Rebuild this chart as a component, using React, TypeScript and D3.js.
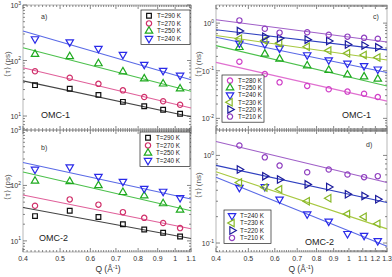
import * as d3 from 'd3';

// Q positions of the points (Å^-1)
const qLeft = [0.43, 0.53, 0.63, 0.73, 0.83, 0.93, 1.03];
const qRight = [0.47, 0.56, 0.62, 0.75, 0.87, 0.99, 1.11, 1.22];
const qTicksLeft = [0.4, 0.5, 0.6, 0.7, 0.8, 0.9, 1, 1.1];
const qTicksRight = [0.4, 0.5, 0.6, 0.7, 0.8, 0.9, 1, 1.1, 1.2, 1.3];

// a) OMC-1, <tau> in ps
const a290 = [36, 31, 24, 18, 15, 13, 11];
const a270 = [64, 49, 38, 29, 22, 18.5, 16];
const a250 = [130, 118, 88, 63, 47, 38, 31];
const a240 = [245, 215, 165, 128, 85, 66, 54];
// fit values at the two ends of the Q axis
const fitA290 = [43, 9.7];
const fitA270 = [74, 14];
const fitA250 = [170, 28];
const fitA240 = [340, 45];

// b) OMC-2, ps
const b290 = [28, 35, 27, 20, 16, 14, 12];
const b270 = [43, 56, 45, 33, 26, 21, 17];
const b250 = [120, 118, 100, 75, 65, 47, 36];
const b240 = [195, 215, 145, 118, 88, 78, 60];
const fitB290 = [40, 11];
const fitB270 = [67, 16.5];
const fitB250 = [175, 35];
const fitB240 = [260, 57];

// c) OMC-1, ns
const c280 = [0.155, 0.085, 0.057, 0.048, 0.041, 0.0365, 0.033, 0.028];
const c250 = [0.31, 0.225, 0.177, 0.128, 0.103, 0.082, 0.075, 0.067];
const c240 = [0.378, 0.366, 0.296, 0.215, 0.168, 0.143, 0.127, 0.108];
const c230 = [0.47, 0.43, 0.38, 0.32, 0.265, 0.232, 0.215, 0.19];
const c220 = [0.68, 0.52, 0.48, 0.45, 0.42, 0.355, 0.338, 0.31];
const c210 = [1.14, 0.76, 0.63, 0.645, 0.57, 0.52, 0.49, 0.47];
const fitC280 = [0.15, 0.023];
const fitC250 = [0.337, 0.048];
const fitC240 = [0.506, 0.092];
const fitC230 = [0.55, 0.168];
const fitC220 = [0.725, 0.274];
const fitC210 = [1.18, 0.4];

// d) OMC-2, ns
const d240 = [0.43, 0.44, 0.316, 0.214, 0.177, 0.128, 0.122, 0.106];
const d230 = [0.49, 0.43, 0.41, 0.3, 0.325, 0.214, 0.2, 0.166];
const d220 = [0.69, 0.58, 0.53, 0.467, 0.436, 0.36, 0.345, 0.316];
const d210 = [1.3, 0.95, 0.765, 0.643, 0.69, 0.605, 0.565, 0.58];
const fitD240 = [0.565, 0.092];
const fitD230 = [0.65, 0.145];
const fitD220 = [0.77, 0.29];
const fitD210 = [1.44, 0.49];

const font = "'Liberation Sans', Arial, sans-serif";

const col = {
  k: ['#111111', '#444444'],
  pink: ['#d0306a', '#e0609a'],
  green: ['#1faa1f', '#4cc04c'],
  blue: ['#2a2ae8', '#5a6ae6'],
  mag: ['#d040c8', '#e070d0'],
  olive: ['#88b828', '#a8c840'],
  navy: ['#1c1c9c', '#3040c0'],
  purple: ['#9040c0', '#a060c8'],
};

type Shape = 'square' | 'circle' | 'up' | 'down' | 'left' | 'right';
type Series = { label: string; shape: Shape; color: string[]; q: number[]; v: number[]; fit: number[] };

const symbolPath = (shape: Shape) => {
  if (shape === 'square') return d3.symbol().type(d3.symbolSquare).size(22)() as string;
  if (shape === 'circle') return d3.symbol().type(d3.symbolCircle).size(22)() as string;
  return d3.symbol().type(d3.symbolTriangle).size(24)() as string;
};
const rot = { square: 0, circle: 0, up: 0, down: 180, left: -90, right: 90 };

function Marker({ shape, color, x, y }: { shape: Shape; color: string; x: number; y: number }) {
  return (
    <path d={symbolPath(shape)} transform={`translate(${x},${y}) rotate(${rot[shape]})`}
      fill="none" stroke={color} strokeWidth={1.2} />
  );
}

const sup = (e: number) => (
  <>10<tspan dy={-3.5} fontSize={5}>{e}</tspan></>
);

type PanelProps = {
  x0: number; x1: number; y0: number; y1: number;
  xDomain: number[]; yDomain: number[]; xTicks: number[]; yExps: number[];
  showX: boolean; series: Series[];
  legend: { x: number; y: number; w: number; row: number };
  tag: string; tagPos: number[]; name: string; namePos: number[];
};

function Panel(p: PanelProps) {
  const x = d3.scaleLog().domain(p.xDomain).range([p.x0, p.x1]);
  const y = d3.scaleLog().domain(p.yDomain).range([p.y1, p.y0]);
  const line = d3.line<number[]>().x(d => x(d[0])).y(d => y(d[1]));
  const minorX = d3.range(Math.round(p.xDomain[0] * 100), Math.round(p.xDomain[1] * 100) + 1).map(d => d / 100);
  const minorY: number[] = [];
  for (let e = Math.floor(Math.log10(p.yDomain[0])); e <= Math.ceil(Math.log10(p.yDomain[1])); e++) {
    for (let k = 1; k < 10; k++) {
      const v = k * Math.pow(10, e);
      if (v >= p.yDomain[0] && v <= p.yDomain[1]) minorY.push(v);
    }
  }
  const tc = '#555';
  return (
    <g>
      <rect x={p.x0} y={p.y0} width={p.x1 - p.x0} height={p.y1 - p.y0} fill="none" stroke="#999" strokeWidth={0.7} />
      {minorX.map((q, i) => {
        const major = p.xTicks.some(t => Math.abs(t - q) < 1e-6);
        const l = major ? 4 : 2;
        return (
          <g key={'x' + i} stroke={tc} strokeWidth={0.7}>
            <line x1={x(q)} x2={x(q)} y1={p.y1} y2={p.y1 - l} />
            <line x1={x(q)} x2={x(q)} y1={p.y0} y2={p.y0 + l} />
          </g>
        );
      })}
      {minorY.map((v, i) => {
        const major = Math.abs(Math.log10(v) - Math.round(Math.log10(v))) < 1e-6;
        const l = major ? 4 : 2;
        return (
          <g key={'y' + i} stroke={tc} strokeWidth={0.7}>
            <line x1={p.x0} x2={p.x0 + l} y1={y(v)} y2={y(v)} />
            <line x1={p.x1} x2={p.x1 - l} y1={y(v)} y2={y(v)} />
          </g>
        );
      })}
      {p.yExps.map(e => (
        <text key={'yl' + e} x={p.x0 - 2} y={y(Math.pow(10, e)) + 3} textAnchor="end" fontSize={7} fill="#333" fontFamily={font}>
          {sup(e)}
        </text>
      ))}
      {p.showX && p.xTicks.map(t => (
        <text key={'xl' + t} x={x(t)} y={p.y1 + 9} textAnchor="middle" fontSize={7} fill="#333" fontFamily={font}>
          {String(t)}
        </text>
      ))}
      {p.series.map(s => (
        <path key={'f' + s.label} d={line([[p.xDomain[0], s.fit[0]], [p.xDomain[1], s.fit[1]]]) as string}
          stroke={s.color[1]} strokeWidth={1.1} fill="none" />
      ))}
      {p.series.map(s => (
        <g key={'m' + s.label}>
          {s.v.map((v, i) => <Marker key={i} shape={s.shape} color={s.color[0]} x={x(s.q[i])} y={y(v)} />)}
        </g>
      ))}
      <rect x={p.legend.x} y={p.legend.y} width={p.legend.w} height={p.series.length * p.legend.row + 4}
        fill="white" stroke="#222" strokeWidth={0.7} />
      {p.series.map((s, i) => {
        const cy = p.legend.y + 2 + p.legend.row * (i + 0.5);
        return (
          <g key={'l' + s.label}>
            <Marker shape={s.shape} color={s.color[0]} x={p.legend.x + 8} y={cy} />
            <text x={p.legend.x + 16} y={cy + 2.3} fontSize={6.3} fill="#222" fontFamily={font}>{s.label}</text>
          </g>
        );
      })}
      <text x={p.tagPos[0]} y={p.tagPos[1]} fontSize={7} fill="#333" fontFamily={font}>{p.tag}</text>
      <text x={p.namePos[0]} y={p.namePos[1]} fontSize={9} fill="#222" fontFamily={font}>{p.name}</text>
    </g>
  );
}

const mk = (label: string, shape: Shape, color: string[], q: number[], v: number[], fit: number[]): Series =>
  ({ label, shape, color, q, v, fit });

export default function App() {
  const seriesA = [
    mk('T=290 K', 'square', col.k, qLeft, a290, fitA290),
    mk('T=270 K', 'circle', col.pink, qLeft, a270, fitA270),
    mk('T=250 K', 'up', col.green, qLeft, a250, fitA250),
    mk('T=240 K', 'down', col.blue, qLeft, a240, fitA240),
  ];
  const seriesB = [
    mk('T=290 K', 'square', col.k, qLeft, b290, fitB290),
    mk('T=270 K', 'circle', col.pink, qLeft, b270, fitB270),
    mk('T=250 K', 'up', col.green, qLeft, b250, fitB250),
    mk('T=240 K', 'down', col.blue, qLeft, b240, fitB240),
  ];
  const seriesC = [
    mk('T=280 K', 'circle', col.mag, qRight, c280, fitC280),
    mk('T=250 K', 'up', col.green, qRight, c250, fitC250),
    mk('T=240 K', 'down', col.blue, qRight, c240, fitC240),
    mk('T=230 K', 'left', col.olive, qRight, c230, fitC230),
    mk('T=220 K', 'right', col.navy, qRight, c220, fitC220),
    mk('T=210 K', 'circle', col.purple, qRight, c210, fitC210),
  ];
  const seriesD = [
    mk('T=240 K', 'down', col.blue, qRight, d240, fitD240),
    mk('T=230 K', 'left', col.olive, qRight, d230, fitD230),
    mk('T=220 K', 'right', col.navy, qRight, d220, fitD220),
    mk('T=210 K', 'circle', col.purple, qRight, d210, fitD210),
  ];

  return (
    <svg width={392} height={277} style={{ position: 'absolute', left: 0, top: 0, background: 'white' }}>
      <Panel x0={23} x1={191} y0={5} y1={130} xDomain={[0.4, 1.1]} yDomain={[5.6, 1000]}
        xTicks={qTicksLeft} yExps={[1, 2, 3]} showX={false} series={seriesA}
        legend={{ x: 141, y: 10, w: 49, row: 7.6 }} tag="a)" tagPos={[41, 19]} name="OMC-1" namePos={[41, 118]} />
      <Panel x0={23} x1={191} y0={130} y1={252} xDomain={[0.4, 1.1]} yDomain={[6.3, 1000]}
        xTicks={qTicksLeft} yExps={[1, 2, 3]} showX={true} series={seriesB}
        legend={{ x: 140, y: 132, w: 50, row: 7.6 }} tag="b)" tagPos={[41, 150]} name="OMC-2" namePos={[39, 241]} />
      <Panel x0={216} x1={387} y0={5} y1={130} xDomain={[0.4, 1.3]} yDomain={[0.0057, 2.4]}
        xTicks={qTicksRight} yExps={[-2, -1, 0]} showX={false} series={seriesC}
        legend={{ x: 222, y: 75, w: 42, row: 7.2 }} tag="c)" tagPos={[373, 19]} name="OMC-1" namePos={[342, 118]} />
      <Panel x0={216} x1={387} y0={130} y1={252} xDomain={[0.4, 1.3]} yDomain={[0.079, 1.95]}
        xTicks={qTicksRight} yExps={[-1, 0]} showX={true} series={seriesD}
        legend={{ x: 224, y: 210, w: 47, row: 7.4 }} tag="d)" tagPos={[366, 147]} name="OMC-2" namePos={[305, 245]} />

      <text transform="translate(10,64) rotate(-90)" textAnchor="middle" fontSize={8} fill="#555" fontFamily={font}>⟨τ⟩ (ps)</text>
      <text transform="translate(10,187) rotate(-90)" textAnchor="middle" fontSize={8} fill="#555" fontFamily={font}>⟨τ⟩ (ps)</text>
      <text transform="translate(201,64) rotate(-90)" textAnchor="middle" fontSize={8} fill="#555" fontFamily={font}>⟨τ⟩ (ns)</text>
      <text transform="translate(201,185) rotate(-90)" textAnchor="middle" fontSize={8} fill="#555" fontFamily={font}>⟨τ⟩ (ns)</text>

      <text x={108} y={272} textAnchor="middle" fontSize={8.5} fill="#333" fontFamily={font}>
        Q (Å<tspan dy={-3} fontSize={5.5}>-1</tspan><tspan dy={3}>)</tspan>
      </text>
      <text x={301} y={272} textAnchor="middle" fontSize={8.5} fill="#333" fontFamily={font}>
        Q (Å<tspan dy={-3} fontSize={5.5}>-1</tspan><tspan dy={3}>)</tspan>
      </text>
    </svg>
  );
}
